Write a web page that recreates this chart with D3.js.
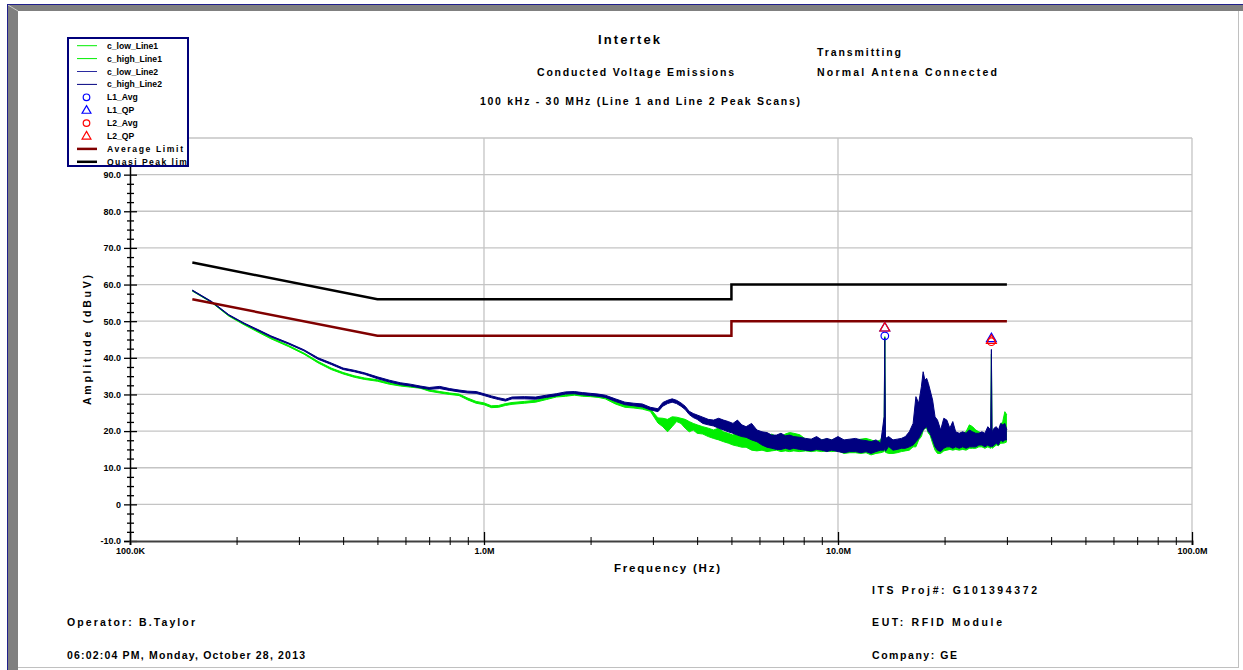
<!DOCTYPE html>
<html>
<head>
<meta charset="utf-8">
<script src="https://cdn.jsdelivr.net/npm/d3@7"></script>
<style>
body { margin: 0; background: #fff; }
svg { display: block; font-family: "Liberation Sans", Arial, sans-serif; font-weight: bold; }
</style>
</head>
<body>
<div id="chart"></div>
<script>
// scan frequencies (MHz) shared by the four trace series
var freqMHz = [0.15, 0.17, 0.19, 0.21, 0.23, 0.25, 0.28, 0.31, 0.34, 0.37, 0.40, 0.43, 0.46, 0.50,
    0.54, 0.58, 0.62, 0.66, 0.70, 0.75, 0.80, 0.85, 0.90, 0.95, 1.00, 1.05, 1.10, 1.15, 1.2, 1.3,
    1.4, 1.5, 1.6, 1.7, 1.8, 1.9, 2.0, 2.1, 2.2, 2.35, 2.5, 2.65, 2.8, 2.95, 3.1, 3.2, 3.3, 3.4,
    3.5, 3.6, 3.7, 3.8, 3.9, 4.0, 4.15, 4.3, 4.45, 4.6, 4.75, 4.9, 5.05, 5.2, 5.35, 5.5, 5.7, 5.9,
    6.1, 6.3, 6.5, 6.7, 6.9, 7.1, 7.3, 7.5, 7.8, 8.1, 8.4, 8.7, 9.0, 9.3, 9.6, 10.0, 10.4, 10.8,
    11.2, 11.6, 12.0, 12.4, 12.8, 13.2, 13.5, 13.56, 13.62, 13.9, 14.3, 14.7, 15.1, 15.5, 15.9,
    16.3, 16.6, 16.9, 17.2, 17.4, 17.6, 17.8, 18.0, 18.2, 18.5, 18.8, 19.1, 19.5, 19.9, 20.3,
    20.7, 21.1, 21.5, 22.0, 22.5, 23.0, 23.5, 24.0, 24.5, 25.0, 25.5, 26.0, 26.5, 27.0, 27.12,
    27.24, 27.6, 28.0, 28.4, 28.8, 29.2, 29.6, 30.0];

var highLine2 = [58.5, 55.4, 51.8, 49.5, 47.7, 46.0, 44.1, 42.2, 40.0, 38.6, 37.2, 36.6, 35.9, 34.8,
    33.9, 33.2, 32.8, 32.3, 31.9, 32.2, 31.6, 31.2, 30.9, 30.8, 30.2, 29.6, 29.1, 28.7, 29.3, 29.4,
    29.3, 29.8, 30.2, 30.7, 30.8, 30.5, 30.3, 30.1, 29.8, 28.8, 27.9, 27.6, 27.4, 26.5, 26.1, 27.8, 28.4, 28.8,
    28.4, 27.7, 26.8, 25.4, 24.8, 24.4, 23.8, 23.2, 23.0, 23.5, 23.0, 22.6, 22.1, 23.0, 21.7, 21.2, 22.1, 20.3,
    19.8, 19.6, 18.9, 18.9, 19.4, 18.7, 18.9, 18.5, 18.3, 18.0, 17.8, 18.5, 17.6, 18.0, 17.6, 18.5, 17.6, 17.8,
    18.0, 17.6, 17.4, 17.1, 17.6, 16.7, 24.0, 45.5, 18.0, 18.5, 17.6, 17.8, 18.0, 18.5, 19.8,
    22.1, 29.4, 27.6, 32.1, 36.2, 33.9, 34.4, 33.0, 31.2, 28.5, 23.9, 23.0, 20.3, 23.5, 23.0,
    20.8, 22.6, 19.8, 19.4, 19.8, 19.4, 20.3, 19.8, 19.4, 19.4, 19.8, 19.4, 21.2, 20.3, 42.3,
    19.8, 20.8, 21.2, 20.3, 22.1, 21.7, 22.1, 20.3];

var lowLine2 = [58.3, 55.2, 51.6, 49.3, 47.4, 45.7, 43.8, 41.9, 39.6, 38.2, 36.8, 36.2, 35.5, 34.3,
    33.4, 32.7, 32.3, 31.8, 31.4, 31.6, 31.1, 30.7, 30.4, 30.3, 29.7, 29.1, 28.6, 28.2, 28.8, 28.8,
    28.7, 29.2, 29.6, 30.1, 30.2, 29.9, 29.7, 29.5, 29.2, 28.1, 27.2, 26.9, 26.6, 25.8, 25.3, 26.8, 27.5, 27.9,
    27.5, 26.8, 25.9, 24.5, 23.7, 23.2, 22.1, 21.7, 21.4, 20.8, 20.3, 19.8, 19.4, 18.9, 18.5, 18.3, 17.6, 17.1,
    16.2, 15.6, 15.3, 15.0, 15.0, 15.3, 15.0, 15.3, 15.0, 14.8, 14.6, 15.0, 14.8, 14.4, 14.8, 14.4, 14.1, 14.4,
    14.4, 14.1, 14.4, 13.9, 14.4, 14.8, 14.8, 16.0, 14.5, 15.8, 14.8, 15.0, 15.3, 15.3, 15.7,
    16.2, 17.1, 18.0, 19.4, 20.3, 20.8, 21.2, 19.8, 19.4, 17.6, 15.7, 14.8, 14.4, 15.3, 15.7,
    15.7, 15.3, 15.7, 15.3, 15.7, 15.3, 15.7, 15.7, 15.7, 16.2, 16.2, 15.7, 16.2, 15.7, 16.0,
    15.7, 16.2, 16.7, 16.2, 17.6, 17.1, 17.6, 17.6];

var highLine1 = [58.4, 55.3, 51.6, 49.2, 47.3, 45.5, 43.4, 41.3, 39.0, 37.2, 36.0, 35.1, 34.5, 34.0,
    33.2, 32.7, 32.4, 32.1, 31.3, 30.8, 30.4, 30.1, 29.0, 28.1, 27.7, 26.9, 27.0, 27.5, 27.8, 28.1,
    28.4, 29.1, 29.8, 30.0, 30.3, 30.0, 30.0, 29.8, 29.4, 28.0, 27.1, 26.9, 26.7, 26.1, 23.6, 23.5, 23.2, 23.9,
    23.8, 23.5, 23.2, 22.6, 22.1, 21.7, 21.2, 20.8, 20.3, 20.8, 19.8, 19.4, 18.9, 19.8, 19.4, 18.7, 18.5, 19.4,
    18.5, 18.0, 19.2, 18.5, 18.3, 19.2, 19.6, 19.4, 19.0, 17.8, 17.6, 18.0, 17.6, 17.8, 17.6, 17.8, 17.4, 17.6,
    17.6, 17.8, 18.0, 17.6, 17.1, 17.6, 20.0, 45.8, 17.5, 18.0, 17.1, 17.4, 17.6, 18.0, 18.5,
    19.8, 21.2, 20.3, 21.2, 21.7, 21.9, 22.1, 21.7, 20.3, 18.5, 16.7, 15.7, 17.6, 18.5, 19.4,
    19.8, 19.4, 19.4, 18.9, 19.4, 19.8, 21.7, 21.2, 20.3, 19.8, 19.4, 18.9, 19.8, 19.8, 41.0,
    19.4, 20.3, 20.8, 19.8, 21.7, 22.6, 25.3, 24.4];

var lowLine1 = [58.2, 55.1, 51.4, 49.0, 47.0, 45.2, 43.1, 41.0, 38.6, 36.8, 35.6, 34.7, 34.1, 33.6,
    32.8, 32.3, 32.0, 31.7, 30.9, 30.4, 30.0, 29.7, 28.5, 27.6, 27.2, 26.4, 26.5, 27.0, 27.3, 27.6,
    27.9, 28.6, 29.3, 29.5, 29.8, 29.5, 29.4, 29.2, 28.8, 27.4, 26.5, 26.3, 26.0, 25.4, 22.2, 21.2, 19.8, 21.2,
    22.6, 22.1, 20.8, 19.8, 20.3, 19.4, 19.2, 18.5, 18.0, 17.6, 17.1, 16.7, 16.2, 15.9, 15.6, 15.6, 14.8, 14.6,
    14.8, 14.4, 14.6, 14.8, 14.4, 14.6, 14.4, 14.6, 14.4, 14.6, 14.4, 14.6, 14.4, 14.6, 14.4, 14.6, 13.9, 14.1,
    14.1, 13.9, 14.1, 13.5, 13.9, 14.1, 14.4, 16.0, 14.2, 13.9, 13.9, 14.1, 14.4, 14.6, 14.8,
    15.7, 15.7, 17.6, 18.5, 20.1, 20.8, 20.8, 19.4, 18.9, 16.7, 14.8, 13.9, 13.9, 14.6, 14.8,
    15.0, 14.8, 15.0, 14.8, 15.0, 14.8, 15.3, 15.3, 15.3, 15.7, 15.7, 15.3, 15.7, 15.3, 15.8,
    15.3, 15.7, 16.2, 16.0, 16.7, 16.7, 16.8, 17.1];

// CISPR 22 class B limits
var limitFreqMHz = [0.15, 0.5, 5, 5, 30];
var qpLimit = [66, 56, 56, 60, 60];
var avgLimit = [56, 46, 46, 50, 50];

// final measurements (null where not visible)
var markerFreqMHz = [13.56, 27.12];
var l1Avg = [46.0, null];
var l1QP = [48.1, 45.2];
var l2Avg = [null, 44.4];
var l2QP = [48.1, 44.7];

var yMajorTicks = [-10, 0, 10, 20, 30, 40, 50, 60, 70, 80, 90, 100];
var yTickLabels = ["-10.0", "0", "10.0", "20.0", "30.0", "40.0", "50.0", "60.0", "70.0", "80.0", "90.0", ""];
var xMajorTicks = [1e5, 1e6, 1e7, 1e8];
var xTickLabels = ["100.0K", "1.0M", "10.0M", "100.0M"];

var legendNames = ["c_low_Line1", "c_high_Line1", "c_low_Line2", "c_high_Line2", "L1_Avg", "L1_QP",
    "L2_Avg", "L2_QP", "Average Limit", "Quasi Peak limit"];

function init() {
    var width = 1243, height = 670;
    var font = "'Liberation Sans', Arial, sans-serif";
    var green = "#00ee00", navy = "#000080", blue = "#0000ff", red = "#ff0000", darkRed = "#800000";

    var svg = d3.select("#chart").append("svg")
        .attr("width", width)
        .attr("height", height);

    // window frame
    svg.append("rect").attr("x", 7).attr("y", 4).attr("width", width - 7).attr("height", 7).attr("fill", "#808080");
    svg.append("rect").attr("x", 7).attr("y", 4).attr("width", 11).attr("height", height - 4).attr("fill", "#808080");
    svg.append("line").attr("x1", 8).attr("y1", 5).attr("x2", 18).attr("y2", 11).attr("stroke", "#c8c8c8");
    svg.append("line").attr("x1", 7).attr("y1", 4.5).attr("x2", width).attr("y2", 4.5).attr("stroke", "#20208c");
    svg.append("line").attr("x1", 7.5).attr("y1", 4).attr("x2", 7.5).attr("y2", height).attr("stroke", "#20208c");
    svg.append("line").attr("x1", 1238.5).attr("y1", 11).attr("x2", 1238.5).attr("y2", 667).attr("stroke", "#c0c0c0");
    svg.append("line").attr("x1", 18).attr("y1", 667.5).attr("x2", 1239).attr("y2", 667.5).attr("stroke", "#c0c0c0");

    var x = d3.scaleLog().domain([1e5, 1e8]).range([130, 1192]);
    var y = d3.scaleLinear().domain([-10, 100]).range([541, 138]);

    // grid
    var grid = svg.append("g").attr("stroke", "#c4c4c4").attr("stroke-width", 1.3);
    grid.selectAll(".h").data(yMajorTicks.slice(1)).enter().append("line")
        .attr("x1", x(1e5)).attr("x2", x(1e8))
        .attr("y1", function (d) { return y(d); }).attr("y2", function (d) { return y(d); });
    grid.selectAll(".v").data(xMajorTicks.slice(1)).enter().append("line")
        .attr("x1", function (d) { return x(d); }).attr("x2", function (d) { return x(d); })
        .attr("y1", y(100)).attr("y2", y(-10));

    // traces
    function band(hi, lo) {
        return freqMHz.map(function (f, i) { return { f: f * 1e6, hi: hi[i], lo: lo[i] }; });
    }
    var area = d3.area()
        .x(function (d) { return x(d.f); })
        .y0(function (d) { return y(d.lo); })
        .y1(function (d) { return y(d.hi); });
    var lineHi = d3.line().x(function (d) { return x(d.f); }).y(function (d) { return y(d.hi); });
    var lineLo = d3.line().x(function (d) { return x(d.f); }).y(function (d) { return y(d.lo); });

    [[band(highLine1, lowLine1), green], [band(highLine2, lowLine2), navy]].forEach(function (s) {
        svg.append("path").datum(s[0]).attr("d", area).attr("fill", s[1]).attr("stroke", "none");
        svg.append("path").datum(s[0]).attr("d", lineHi).attr("fill", "none").attr("stroke", s[1]).attr("stroke-width", 1);
        svg.append("path").datum(s[0]).attr("d", lineLo).attr("fill", "none").attr("stroke", s[1]).attr("stroke-width", 1);
    });

    // limits
    var limLine = d3.line()
        .x(function (d) { return x(d[0] * 1e6); })
        .y(function (d) { return y(d[1]); });
    svg.append("path").datum(d3.zip(limitFreqMHz, avgLimit)).attr("d", limLine)
        .attr("fill", "none").attr("stroke", darkRed).attr("stroke-width", 2.5);
    svg.append("path").datum(d3.zip(limitFreqMHz, qpLimit)).attr("d", limLine)
        .attr("fill", "none").attr("stroke", "#000").attr("stroke-width", 2.5);

    // axes
    var yAxis = d3.axisLeft(y).tickValues(yMajorTicks)
        .tickFormat(function (d, i) { return yTickLabels[i]; }).tickSize(6).tickPadding(3);
    var yMinor = d3.range(-7.5, 100, 2.5).filter(function (v) { return v % 10 !== 0; });
    var yAxisMinor = d3.axisLeft(y).tickValues(yMinor).tickFormat("").tickSize(3);

    var gy = svg.append("g").attr("transform", "translate(130,0)").call(yAxis)
        .attr("font-family", font).attr("font-size", 9);
    gy.select(".domain").attr("stroke", "#000").attr("stroke-width", 1.5);
    gy.selectAll(".tick line").attr("x1", 7).attr("stroke-width", 1.3);
    gy.selectAll("text").attr("font-weight", "bold").attr("fill", "#000");
    var gym = svg.append("g").attr("transform", "translate(130,0)").call(yAxisMinor);
    gym.select(".domain").remove();
    gym.selectAll(".tick line").attr("x1", 4).attr("stroke-width", 1.3);

    var xMinor = [];
    [1e5, 1e6, 1e7].forEach(function (dec) {
        for (var k = 2; k <= 9; k++) xMinor.push(dec * k);
    });
    var xAxis = d3.axisBottom(x).tickValues(xMajorTicks)
        .tickFormat(function (d, i) { return xTickLabels[i]; }).tickSize(4).tickPadding(3);
    var gx = svg.append("g").attr("transform", "translate(0,541)").call(xAxis)
        .attr("font-family", font).attr("font-size", 9);
    gx.select(".domain").attr("stroke", "#404040").attr("stroke-width", 2);
    gx.selectAll(".tick line").attr("y1", -9).attr("stroke", "#000").attr("stroke-width", 1.3);
    gx.selectAll("text").attr("font-weight", "bold").attr("fill", "#000");
    var gxm = svg.append("g").attr("transform", "translate(0,541)")
        .call(d3.axisBottom(x).tickValues(xMinor).tickFormat("").tickSize(4));
    gxm.select(".domain").remove();
    gxm.selectAll(".tick line").attr("y1", -4).attr("stroke", "#000").attr("stroke-width", 1);

    // markers
    var tri = d3.symbol().type(d3.symbolTriangle).size(42);
    function drawMarkers(vals, color, shape) {
        var pts = markerFreqMHz.map(function (f, i) { return [f * 1e6, vals[i]]; })
            .filter(function (p) { return p[1] !== null; });
        var sel = svg.append("g").selectAll("path").data(pts).enter();
        if (shape === "circle") {
            sel.append("circle")
                .attr("cx", function (d) { return x(d[0]); }).attr("cy", function (d) { return y(d[1]); })
                .attr("r", 3.8).attr("fill", "none").attr("stroke", color).attr("stroke-width", 1.2);
        } else {
            sel.append("path").attr("d", tri)
                .attr("transform", function (d) { return "translate(" + x(d[0]) + "," + y(d[1]) + ")"; })
                .attr("fill", "none").attr("stroke", color).attr("stroke-width", 1.2);
        }
    }
    drawMarkers(l1Avg, blue, "circle");
    drawMarkers(l1QP, blue, "tri");
    drawMarkers(l2Avg, red, "circle");
    drawMarkers(l2QP, red, "tri");

    // texts
    function label(tx, ty, str, size, anchor, len) {
        var t = svg.append("text").attr("x", tx).attr("y", ty).attr("font-size", size)
            .attr("text-anchor", anchor || "start").text(str);
        if (len) t.attr("textLength", len).attr("lengthAdjust", "spacing");
        return t;
    }
    label(629, 44, "Intertek", 13, "middle", 62);
    label(817, 56, "Transmitting", 10.5, "start", 84);
    label(635.5, 76, "Conducted Voltage Emissions", 10.5, "middle", 197);
    label(817, 76, "Normal Antena Connected", 10.5, "start", 180);
    label(640, 105, "100 kHz - 30 MHz (Line 1 and Line 2 Peak Scans)", 10.5, "middle", 320);
    label(667, 572, "Frequency (Hz)", 11.5, "middle", 106);
    svg.append("text").attr("transform", "translate(91,340) rotate(-90)")
        .attr("text-anchor", "middle").attr("font-size", 10.5)
        .attr("textLength", 130).attr("lengthAdjust", "spacing")
        .text("Amplitude (dBuV)");
    label(872, 594, "ITS Proj#:  G101394372", 10.5, "start", 165);
    label(872, 626, "EUT:  RFID Module", 10.5, "start", 130);
    label(872, 659, "Company: GE", 10.5, "start", 85);
    label(67, 626, "Operator: B.Taylor", 10.5, "start", 128);
    label(67, 659, "06:02:04 PM, Monday, October 28, 2013", 10.5, "start", 238);

    // legend
    var lg = svg.append("g");
    svg.append("clipPath").attr("id", "lgclip").append("rect")
        .attr("x", 68).attr("y", 38).attr("width", 120).attr("height", 128);
    lg.append("rect").attr("x", 68).attr("y", 38).attr("width", 120).attr("height", 128)
        .attr("fill", "#fff").attr("stroke", "none");
    var items = lg.append("g").attr("clip-path", "url(#lgclip)");
    var styles = [
        { c: green, w: 1 }, { c: green, w: 1 }, { c: "#2a2aa0", w: 1 }, { c: navy, w: 1 },
        { c: blue, m: "circle" }, { c: blue, m: "tri" }, { c: red, m: "circle" }, { c: red, m: "tri" },
        { c: darkRed, w: 2.5, len: 76 }, { c: "#000", w: 2.5, len: 88 }
    ];
    legendNames.forEach(function (name, i) {
        var cy = 45.7 + i * 12.9;
        var s = styles[i];
        if (s.m === "circle") {
            items.append("circle").attr("cx", 86.5).attr("cy", cy).attr("r", 3.3)
                .attr("fill", "none").attr("stroke", s.c).attr("stroke-width", 1.2);
        } else if (s.m === "tri") {
            items.append("path").attr("d", d3.symbol().type(d3.symbolTriangle).size(34))
                .attr("transform", "translate(86.5," + (cy + 0.5) + ")")
                .attr("fill", "none").attr("stroke", s.c).attr("stroke-width", 1.2);
        } else {
            items.append("line").attr("x1", 77).attr("x2", 97).attr("y1", cy).attr("y2", cy)
                .attr("stroke", s.c).attr("stroke-width", s.w);
        }
        var t = items.append("text").attr("x", 107).attr("y", cy + 3).attr("font-size", 8.6).text(name);
        if (s.len) t.attr("textLength", s.len).attr("lengthAdjust", "spacing");
    });
    lg.append("rect").attr("x", 68).attr("y", 38).attr("width", 120).attr("height", 128)
        .attr("fill", "none").attr("stroke", "#00007a").attr("stroke-width", 2);
}

window.onload = init;
</script>
</body>
</html>
